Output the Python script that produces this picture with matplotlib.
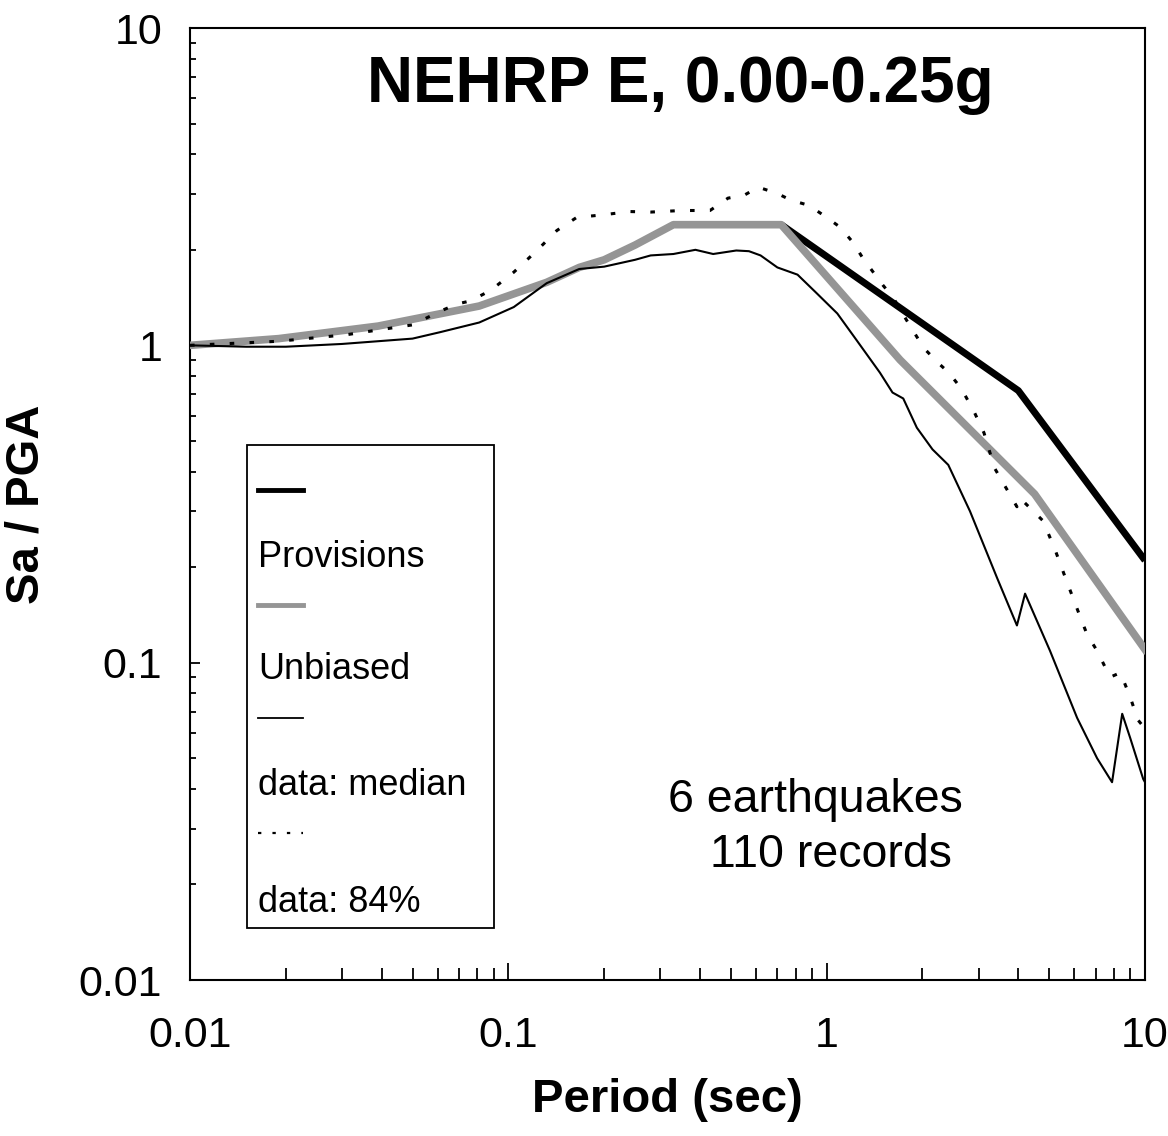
import matplotlib
matplotlib.use("Agg")
import matplotlib.pyplot as plt
from matplotlib.patches import Rectangle
from matplotlib.ticker import LogLocator, NullFormatter, FixedLocator, FixedFormatter

plt.rcParams['font.family'] = ['Liberation Sans', 'DejaVu Sans']

# NEHRP provisions (thick black), visible part after the plateau
period_prov = [0.72, 4.0, 10.0]
sa_prov = [2.4, 0.72, 0.21]

# unbiased spectrum (thick grey)
period_unb = [0.01, 0.019, 0.039, 0.081, 0.132, 0.167, 0.2, 0.25, 0.33, 0.72, 1.7, 4.5, 10.0]
sa_unb = [1.0, 1.05, 1.15, 1.33, 1.58, 1.76, 1.86, 2.07, 2.4, 2.4, 0.9, 0.34, 0.11]

# data: median (thin solid)
period_med = [0.01, 0.015, 0.02, 0.03, 0.05, 0.061, 0.081, 0.104, 0.132, 0.167, 0.2,
              0.25, 0.28, 0.33, 0.387, 0.44, 0.52, 0.57, 0.62, 0.70, 0.81, 0.93, 1.08,
              1.24, 1.47, 1.61, 1.74, 1.92, 2.15, 2.41, 2.82, 3.43, 3.96, 4.20, 5.03,
              6.12, 7.07, 7.88, 8.48, 8.98, 9.87, 10.0]
sa_med = [1.0, 0.99, 0.99, 1.01, 1.05, 1.1, 1.18, 1.32, 1.57, 1.74, 1.77,
          1.86, 1.92, 1.94, 2.0, 1.94, 1.99, 1.98, 1.92, 1.76, 1.67, 1.46, 1.26,
          1.04, 0.82, 0.71, 0.68, 0.55, 0.47, 0.42, 0.30, 0.185, 0.131, 0.165, 0.109,
          0.067, 0.050, 0.042, 0.069, 0.058, 0.043, 0.042]

# data: 84th percentile (dotted)
period_84 = [0.01, 0.019, 0.031, 0.05, 0.061, 0.069, 0.076, 0.088, 0.104, 0.123, 0.142,
             0.164, 0.2, 0.24, 0.28, 0.35, 0.43, 0.49, 0.55, 0.61, 0.70, 0.77, 0.88,
             1.0, 1.10, 1.21, 1.30, 1.50, 1.62, 1.81, 2.02, 2.24, 2.42, 2.65, 2.90,
             3.12, 3.37, 3.96, 4.05, 4.78, 5.2, 5.67, 6.15, 6.57, 7.07, 7.77, 8.37,
             8.98, 9.5, 10.0]
sa_84 = [1.0, 1.03, 1.08, 1.16, 1.28, 1.35, 1.38, 1.49, 1.70, 1.99, 2.30,
         2.53, 2.58, 2.64, 2.63, 2.66, 2.66, 2.91, 2.97, 3.15, 3.01, 2.87, 2.76,
         2.53, 2.36, 2.11, 1.88, 1.55, 1.41, 1.17, 0.98, 0.88, 0.82, 0.73, 0.62,
         0.53, 0.41, 0.31, 0.33, 0.28, 0.229, 0.181, 0.146, 0.123, 0.109, 0.090, 0.093,
         0.078, 0.066, 0.062]

legend_labels = ["Provisions", "Unbiased", "data: median", "data: 84%"]
tick_vals = [0.01, 0.1, 1, 10]
tick_text = ["0.01", "0.1", "1", "10"]

grey = '#959595'
dots = (0, (1.5, 5))

fig = plt.figure(figsize=(11.68, 11.36), dpi=100)
ax = fig.add_axes([190 / 1168, 156 / 1136, 955 / 1168, 952 / 1136])

ax.plot(period_prov, sa_prov, color='black', lw=5, solid_capstyle='butt', zorder=2)
ax.plot(period_unb, sa_unb, color=grey, lw=5.5, zorder=3)
ax.plot(period_med, sa_med, color='black', lw=1.5, zorder=4)
ax.plot(period_84, sa_84, color='black', lw=2.2, linestyle=dots, zorder=4)

ax.set_xscale('log')
ax.set_yscale('log')
ax.set_xlim(0.01, 10)
ax.set_ylim(0.01, 10)

for a in (ax.xaxis, ax.yaxis):
    a.set_major_locator(FixedLocator(tick_vals))
    a.set_major_formatter(FixedFormatter(tick_text))
    a.set_minor_locator(LogLocator(base=10, subs=range(2, 10)))
    a.set_minor_formatter(NullFormatter())

ax.tick_params(axis='both', which='both', direction='in', top=False, right=False,
               labelsize=31, width=1.3)
ax.tick_params(axis='x', which='major', length=12, pad=26)
ax.tick_params(axis='x', which='minor', length=9)
ax.tick_params(axis='y', which='major', length=7, pad=20)
ax.tick_params(axis='y', which='minor', length=4.5)
for s in ax.spines.values():
    s.set_linewidth(1.5)

ax.set_xlabel("Period (sec)", fontsize=34, fontweight='bold', labelpad=16)
ax.set_ylabel("Sa / PGA", fontsize=34, fontweight='bold', labelpad=22)

ax.text(0.513, 0.94, "NEHRP E, 0.00-0.25g", transform=ax.transAxes, ha='center',
        va='center', fontsize=46, fontweight='bold')
ax.text(0.5005, 0.189, "6 earthquakes", transform=ax.transAxes, ha='left', va='center',
        fontsize=33.5)
ax.text(0.5445, 0.131, "110 records", transform=ax.transAxes, ha='left', va='center',
        fontsize=33.5)

# legend box, handles above their labels
ax.add_patch(Rectangle((0.0597, 0.0546), 0.259, 0.507, transform=ax.transAxes,
                       fill=False, edgecolor='black', lw=1.3, zorder=5))
handle_styles = [dict(color='black', lw=3.5),
                 dict(color=grey, lw=3.5),
                 dict(color='black', lw=1.3),
                 dict(color='black', lw=1.6, linestyle=dots)]
handle_y = [0.515, 0.394, 0.275, 0.154]
label_y = [0.444, 0.326, 0.204, 0.081]
for style, hy, ly, lab in zip(handle_styles, handle_y, label_y, legend_labels):
    ax.plot([0.071, 0.118], [hy, hy], transform=ax.transAxes, zorder=6, **style)
    ax.text(0.071, ly, lab, transform=ax.transAxes, ha='left', va='center',
            fontsize=26, zorder=6)

fig.savefig("out.png", dpi=100)
